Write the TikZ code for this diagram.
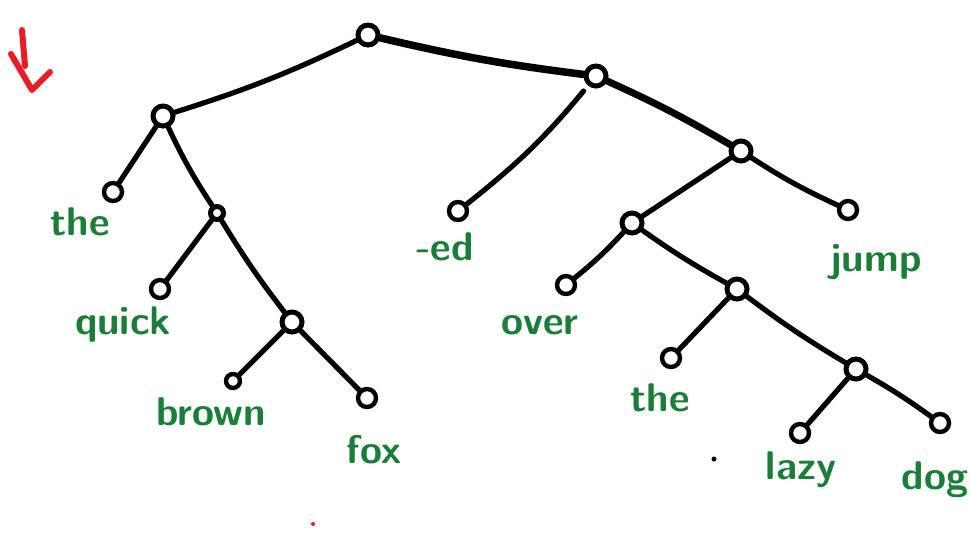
\documentclass[tikz,border=0pt]{standalone}
\usetikzlibrary{calc}
\definecolor{inkgreen}{RGB}{26,125,56}
\definecolor{inkred}{RGB}{232,28,36}
\begin{document}
\begin{tikzpicture}[x=1pt,y=-1pt,
  inner/.style={circle,draw,line width=5pt,minimum size=20pt,inner sep=0pt},
  leaf/.style={circle,draw,line width=4.4pt,minimum size=18pt,inner sep=0pt},
  edge/.style={line width=5.2pt,line cap=round},
  word/.style={text=inkgreen,font=\sffamily\bfseries\fontsize{40}{40}\selectfont,inner sep=0pt}]
\useasboundingbox (0,0) rectangle (970,541);
% tree nodes
\node[inner] (root) at (368,35) {};
\node[inner] (l1) at (163,116) {};
\node[inner] (r1) at (596,76) {};
\node[leaf] (the1) at (113,192) {};
\node[inner,minimum size=13pt] (n1) at (217,213) {};
\node[leaf] (quick) at (160,289) {};
\node[inner] (n2) at (292,322) {};
\node[leaf,minimum size=14pt] (brown) at (233,381) {};
\node[leaf] (fox) at (367,398) {};
\node[leaf] (ed) at (458,211) {};
\node[inner] (r2) at (741,151) {};
\node[leaf] (jump) at (848,210) {};
\node[inner] (n3) at (632,223) {};
\node[leaf] (over) at (566,285) {};
\node[inner] (n4) at (737,289) {};
\node[leaf] (the2) at (671,358) {};
\node[inner] (n5) at (856,369) {};
\node[leaf] (lazy) at (800,433) {};
\node[leaf] (dog) at (940,423) {};
% connectors
\draw[edge,line width=7.5pt] (root) to[bend right=3] (r1);
\draw[edge] (root) to[bend left=4] (l1);
\draw[edge] (l1) -- (the1);
\draw[edge] (l1) to[bend right=4] (n1);
\draw[edge] (n1) -- (quick);
\draw[edge] (n1) to[bend right=3] (n2);
\draw[edge] (n2) -- (brown);
\draw[edge] (n2) -- (fox);
\draw[edge,shorten <=7pt] (r1) to[bend left=6] (ed);
\draw[edge,line width=7pt] (r1) to[bend left=3] (r2);
\draw[edge] (r2) to[bend right=4] (jump);
\draw[edge] (r2) -- (n3);
\draw[edge] (n3) to[bend left=4] (over);
\draw[edge] (n3) to[bend right=3] (n4);
\draw[edge] (n4) -- (the2);
\draw[edge] (n4) to[bend right=3] (n5);
\draw[edge] (n5) -- (lazy);
\draw[edge] (n5) to[bend left=3] (dog);
% labels
\node[word] (w1) at (80,222) {the};
\node[word] (w2) at (123,324) {quick};
\node[word] (w3) at (211,412) {brown};
\node[word] (w4) at (374,450) {fox};
\node[word] (w5) at (445,247) {-ed};
\node[word] (w6) at (540,325) {over};
\node[word] (w7) at (876,262) {jump};
\node[word] (w8) at (660,398) {the};
\node[word] (w9) at (801,470) {lazy};
\node[word] (w10) at (935,480) {dog};
% red arrow mark
\draw[inkred,line width=6pt,line cap=round] (22,30) -- (25,66);
\draw[inkred,line width=6pt,line cap=round,line join=round] (11,54) -- (32,90) -- (50,72);
% stray dots
\fill (714,459) circle (2.5pt);
\fill[inkred] (313,524) circle (2pt);
\end{tikzpicture}
\end{document}
